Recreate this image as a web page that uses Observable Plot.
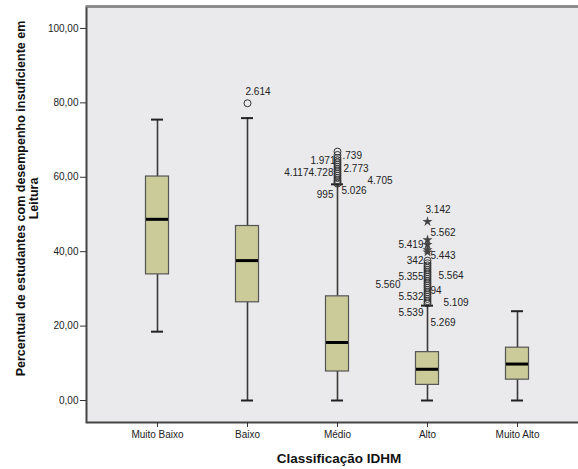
<!DOCTYPE html>
<html>
<head>
<meta charset="utf-8">
<script src="https://cdn.jsdelivr.net/npm/d3@7"></script>
<script src="https://cdn.jsdelivr.net/npm/@observablehq/plot@0.6"></script>
<style>
  html, body { margin: 0; padding: 0; background: #fff; overflow: hidden; }
  #chart svg { display: block; font-family: Arial, "Liberation Sans", sans-serif; }
</style>
</head>
<body>
<div id="chart"></div>
<script>
// Box-plot summary per IDHM class (percent of students below the reading standard)
const categories = ["Muito Baixo", "Baixo", "Médio", "Alto", "Muito Alto"];
const whiskerLow  = [18.5,  0.0,  0.0,  0.0,  0.0];
const q1          = [33.9, 26.4,  7.8,  4.2,  5.6];
const median      = [48.7, 37.6, 15.6,  8.4,  9.8];
const q3          = [60.2, 46.9, 28.0, 13.0, 14.2];
const whiskerHigh = [75.5, 75.9, 58.1, 25.5, 24.0];

// Outliers (circles) and extremes (stars)
const outlierCategory = [
  "Baixo",
  "Médio", "Médio", "Médio", "Médio", "Médio", "Médio", "Médio", "Médio",
  "Médio", "Médio", "Médio", "Médio", "Médio", "Médio", "Médio",
  "Alto", "Alto", "Alto", "Alto", "Alto", "Alto", "Alto", "Alto", "Alto", "Alto",
  "Alto", "Alto", "Alto", "Alto", "Alto", "Alto", "Alto", "Alto", "Alto", "Alto"
];
const outlierValue = [
  79.9,
  66.9, 66.0, 65.2, 64.6, 64.0, 63.4, 62.8, 62.2,
  61.6, 61.0, 60.4, 59.8, 59.2, 58.7, 58.3,
  37.6, 36.9, 36.3, 35.7, 35.1, 34.5, 33.9, 33.3, 32.7, 32.1,
  31.5, 30.9, 30.3, 29.7, 29.1, 28.5, 27.9, 27.3, 26.7, 26.1
];
const extremeCategory = ["Alto", "Alto", "Alto", "Alto", "Alto"];
const extremeValue = [48.1, 43.2, 41.9, 40.5, 39.9];

// Case labels next to the outlying points
const labelCategory = [
  "Baixo",
  "Médio", "Médio", "Médio", "Médio", "Médio", "Médio", "Médio",
  "Alto", "Alto", "Alto", "Alto", "Alto", "Alto", "Alto",
  "Alto", "Alto", "Alto", "Alto", "Alto", "Alto"
];
const labelValue = [
  83.1,
  65.9, 64.5, 62.4, 61.2, 59.0, 56.5, 55.2,
  51.3, 45.0, 41.9, 39.0, 37.6, 33.4, 33.2,
  31.1, 29.6, 28.0, 26.3, 23.5, 20.9
];
const labelText = [
  "2.614",
  ".739", "1.971", "2.773", "4.1174.728", "4.705", "5.026", "995",
  "3.142", "5.562", "5.419", "5.443", "342", "5.564", "5.355",
  "5.560", "94", "5.532", "5.109", "5.539", "5.269"
];

const yTicks = [0, 20, 40, 60, 80, 100];
const yTitle = "Percentual de estudantes com desempenho insuficiente em\nLeitura";
const xTitle = "Classificação IDHM";

// ---- layout ----
// horizontal offset (px) and anchor of each case label relative to its point
const labelDx = [
  -2,
  5, -2, 6, -4, 30, 4, -4,
  -2, 3, -4, 3, -4, 11, -4,
  -27, 3, -4, 16, -4, 3
];
const labelAnchor = [
  "start",
  "start", "end", "start", "end", "start", "start", "end",
  "start", "start", "end", "start", "end", "start", "end",
  "end", "start", "end", "start", "end", "start"
];

const boxes = categories.map((c, i) => ({
  c, lo: whiskerLow[i], q1: q1[i], med: median[i], q3: q3[i], hi: whiskerHigh[i]
}));
const outliers = outlierCategory.map((c, i) => ({c, v: outlierValue[i]}));
const extremes = extremeCategory.map((c, i) => ({c, v: extremeValue[i]}));
const labels = labelCategory.map((c, i) => ({
  c, v: labelValue[i], t: labelText[i], dx: labelDx[i], anchor: labelAnchor[i]
}));

const fmt = d => d.toFixed(2).replace(".", ",");
const ink = "#222";
const boxFill = "#cbcb99";
const bg = "#eaeaec";
const font = "Arial, 'Liberation Sans', sans-serif";
const yMin = -5.91, yMax = 105.9;

// one text mark per (offset, anchor) group, since dx is a constant option
const labelMarks = d3.groups(labels, d => `${d.dx}|${d.anchor}`).map(([, rows]) =>
  Plot.text(rows, {
    x: "c", y: "v", text: "t",
    dx: rows[0].dx, textAnchor: rows[0].anchor,
    fontSize: 10, fill: ink
  })
);

const chart = Plot.plot({
  width: 578,
  height: 469,
  marginLeft: 86,
  marginRight: -3,
  marginTop: 6,
  marginBottom: 47,
  style: {fontFamily: font, background: "#fff", overflow: "hidden"},
  x: {type: "band", domain: categories, range: [112, 562], padding: 0, label: null},
  y: {domain: [yMin, yMax], label: null},
  marks: [
    // plot background with border (right side falls outside the picture)
    Plot.frame({fill: bg, stroke: "#444", strokeWidth: 2}),
    Plot.ruleY([yMax], {stroke: "#888", strokeWidth: 2}),
    Plot.axisY({
      ticks: yTicks, tickFormat: fmt, tickSize: 6, tickPadding: 2,
      fontSize: 10, stroke: "#333", fill: "#222", label: null
    }),
    Plot.axisX({
      tickSize: 5, tickPadding: 3, fontSize: 10, stroke: "#333", fill: "#222", label: null
    }),
    // whiskers
    Plot.ruleX(boxes, {x: "c", y1: "lo", y2: "q1", stroke: "#3a3a3a", strokeWidth: 1.6}),
    Plot.ruleX(boxes, {x: "c", y1: "q3", y2: "hi", stroke: "#3a3a3a", strokeWidth: 1.6}),
    Plot.tickY(boxes, {x: "c", y: "lo", stroke: ink, strokeWidth: 2, insetLeft: 39, insetRight: 39}),
    Plot.tickY(boxes, {x: "c", y: "hi", stroke: ink, strokeWidth: 2, insetLeft: 39, insetRight: 39}),
    // boxes and medians
    Plot.barY(boxes, {
      x: "c", y1: "q1", y2: "q3", fill: boxFill, stroke: "#555", strokeWidth: 1.2,
      insetLeft: 33.5, insetRight: 33.5
    }),
    Plot.tickY(boxes, {x: "c", y: "med", stroke: "#000", strokeWidth: 3, insetLeft: 34, insetRight: 34}),
    // case labels
    ...labelMarks,
    // outliers and extremes
    Plot.dot(outliers, {x: "c", y: "v", r: 3.5, stroke: "#333", strokeWidth: 1, fill: "none"}),
    Plot.dot(extremes, {x: "c", y: "v", symbol: "star", r: 3.2, fill: "#444", stroke: "none"}),
    // axis titles
    Plot.text([yTitle], {
      frameAnchor: "left", rotate: -90, dx: -59.5, dy: -16,
      textAnchor: "middle", lineAnchor: "middle",
      fontSize: 12.5, fontWeight: "bold", fill: "#111", lineHeight: 1.05
    }),
    Plot.text([xTitle], {
      frameAnchor: "bottom", dx: 5, dy: 36, lineAnchor: "middle",
      fontSize: 13.5, fontWeight: "bold", fill: "#111"
    })
  ]
});

document.getElementById("chart").append(chart);
</script>
</body>
</html>
